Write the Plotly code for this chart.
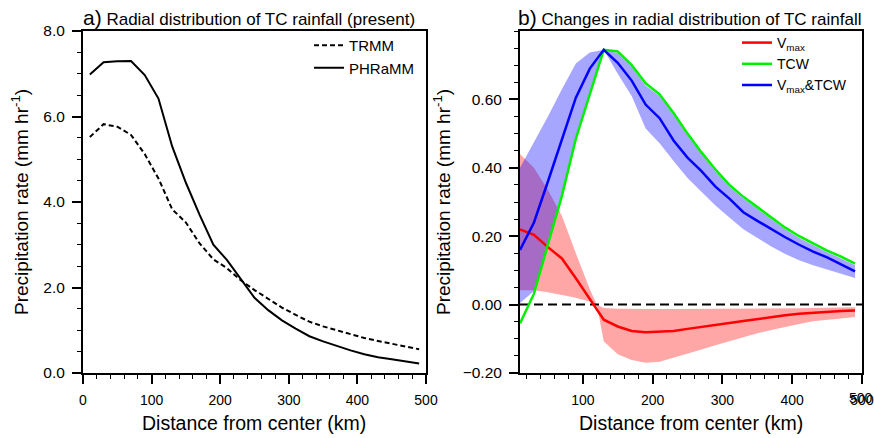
import plotly.graph_objects as go

# ---------------- data ----------------
dist_a = [10, 30, 50, 70, 90, 110, 130, 150, 170, 190, 210, 230, 250, 270, 290,
          310, 330, 350, 370, 390, 410, 430, 450, 470, 490]
trmm = [5.52, 5.82, 5.76, 5.57, 5.12, 4.55, 3.83, 3.52, 3.03, 2.66, 2.45, 2.17, 1.94,
        1.73, 1.53, 1.36, 1.20, 1.09, 1.00, 0.90, 0.82, 0.75, 0.69, 0.62, 0.555]
phramm = [6.98, 7.27, 7.29, 7.30, 6.97, 6.42, 5.30, 4.45, 3.70, 3.00, 2.64, 2.19, 1.76,
          1.47, 1.23, 1.04, 0.86, 0.74, 0.63, 0.53, 0.44, 0.37, 0.32, 0.27, 0.22]

dist_b = dist_a
vmax = [0.22, 0.204, 0.168, 0.135, 0.077, 0.015, -0.044, -0.064, -0.077, -0.081, -0.080,
        -0.077, -0.071, -0.066, -0.060, -0.054, -0.048, -0.042, -0.036, -0.031, -0.027,
        -0.024, -0.021, -0.019, -0.0175]
tcw = [-0.055, 0.032, 0.176, 0.318, 0.485, 0.615, 0.745, 0.74, 0.70, 0.647, 0.615, 0.56,
       0.50, 0.445, 0.395, 0.35, 0.315, 0.285, 0.255, 0.225, 0.20, 0.178, 0.158, 0.14, 0.12]
vmax_tcw = [0.16, 0.24, 0.36, 0.48, 0.605, 0.69, 0.745, 0.707, 0.655, 0.585, 0.545, 0.48,
            0.43, 0.39, 0.345, 0.31, 0.27, 0.245, 0.22, 0.197, 0.175, 0.155, 0.138, 0.117, 0.097]

dist_band_red = [10, 30, 50, 70, 90, 110, 120, 130, 150, 170, 190, 210, 230, 250, 270, 290,
                 310, 330, 350, 370, 390, 410, 430, 450, 470, 490]
vmax_hi = [0.44, 0.40, 0.335, 0.26, 0.15, 0.045, 0.0, -0.010, -0.012, -0.013, -0.013, -0.013,
           -0.013, -0.013, -0.013, -0.013, -0.013, -0.012, -0.012, -0.012, -0.011, -0.011,
           -0.010, -0.010, -0.009, -0.008]
vmax_lo = [0.042, 0.042, 0.036, 0.029, 0.02, 0.008, 0.0, -0.107, -0.145, -0.162, -0.17,
           -0.167, -0.156, -0.143, -0.131, -0.119, -0.106, -0.095, -0.084, -0.074, -0.065,
           -0.057, -0.049, -0.044, -0.04, -0.036]

vt_hi = [0.40, 0.475, 0.55, 0.63, 0.705, 0.737, 0.745, 0.735, 0.695, 0.64, 0.61, 0.555,
         0.495, 0.44, 0.39, 0.345, 0.31, 0.28, 0.25, 0.22, 0.195, 0.173, 0.153, 0.135, 0.115]
vt_lo = [0.005, 0.04, 0.18, 0.325, 0.49, 0.62, 0.745, 0.675, 0.61, 0.515, 0.472, 0.42,
         0.37, 0.33, 0.29, 0.255, 0.22, 0.195, 0.17, 0.148, 0.13, 0.115, 0.103, 0.09, 0.078]

zero_x = [10, 500]
zero_y = [0, 0]

W, H = 874, 438
FONT = "Liberation Sans, Arial, Helvetica, sans-serif"


def px_x(p):
    return p / W


def px_y(p):
    return 1 - p / H


fig = go.Figure()

# ---------------- panel a ----------------
fig.add_trace(go.Scatter(x=dist_a, y=trmm, mode="lines", name="TRMM",
                         line=dict(color="black", width=2, dash="5px,3px"),
                         xaxis="x", yaxis="y", legend="legend"))
fig.add_trace(go.Scatter(x=dist_a, y=phramm, mode="lines", name="PHRaMM",
                         line=dict(color="black", width=2),
                         xaxis="x", yaxis="y", legend="legend"))

# ---------------- panel b ----------------
fig.add_trace(go.Scatter(x=dist_band_red + dist_band_red[::-1], y=vmax_hi + vmax_lo[::-1],
                         fill="toself", fillcolor="rgba(255,0,0,0.35)", mode="lines",
                         line=dict(width=0), hoverinfo="skip", showlegend=False,
                         xaxis="x2", yaxis="y2"))
fig.add_trace(go.Scatter(x=dist_b + dist_b[::-1], y=vt_hi + vt_lo[::-1],
                         fill="toself", fillcolor="rgba(0,0,255,0.35)", mode="lines",
                         line=dict(width=0), hoverinfo="skip", showlegend=False,
                         xaxis="x2", yaxis="y2"))
fig.add_trace(go.Scatter(x=zero_x, y=zero_y, mode="lines", showlegend=False,
                         line=dict(color="black", width=2, dash="9px,5px"),
                         xaxis="x2", yaxis="y2"))
fig.add_trace(go.Scatter(x=dist_b, y=vmax, mode="lines", name="V<sub>max</sub>",
                         line=dict(color="#ff0000", width=2.5),
                         xaxis="x2", yaxis="y2", legend="legend2"))
fig.add_trace(go.Scatter(x=dist_b, y=tcw, mode="lines", name="TCW",
                         line=dict(color="#00f000", width=2.5),
                         xaxis="x2", yaxis="y2", legend="legend2"))
fig.add_trace(go.Scatter(x=dist_b, y=vmax_tcw, mode="lines", name="V<sub>max</sub>&TCW",
                         line=dict(color="#0000ff", width=2.5),
                         xaxis="x2", yaxis="y2", legend="legend2"))

axis_common = dict(showline=True, linecolor="black", linewidth=2, mirror=True,
                   ticks="outside", ticklen=9, tickwidth=1.5, tickcolor="black",
                   showgrid=False, zeroline=False, automargin=False,
                   ticklabeloverflow="allow")
yfont = dict(family=FONT, size=15.5, color="black")
xfont = dict(family=FONT, size=14, color="black")
minor_x = dict(tick0=0, dtick=20, ticks="outside", ticklen=4, tickwidth=1.2, tickcolor="black")

ydom = [px_y(373), px_y(31)]

fig.update_layout(
    template="none",
    width=W, height=H,
    margin=dict(l=0, r=0, t=0, b=0, autoexpand=False),
    paper_bgcolor="white", plot_bgcolor="white",
    font=dict(family=FONT, color="black"),
    xaxis=dict(domain=[px_x(83), px_x(426)], range=[0, 500], tickmode="linear", tick0=0, dtick=100,
               minor=minor_x, anchor="y", ticklabelstandoff=4, tickfont=xfont, **axis_common),
    yaxis=dict(domain=ydom, range=[0, 8], tickmode="linear", tick0=0, dtick=2, tickformat=".1f",
               minor=dict(dtick=0.5, ticks="outside", ticklen=4, tickwidth=1.2, tickcolor="black"),
               anchor="x", ticklabelstandoff=4, tickfont=yfont, **axis_common),
    xaxis2=dict(domain=[px_x(520), px_x(862)], range=[10, 500], tickmode="linear", tick0=0,
                dtick=100, minor=minor_x, anchor="y2", ticklabelstandoff=4, tickfont=xfont,
                **axis_common),
    yaxis2=dict(domain=ydom, range=[-0.2, 0.8], tickvals=[-0.2, 0.0, 0.2, 0.4, 0.6],
                tickformat=".2f",
                minor=dict(dtick=0.05, ticks="outside", ticklen=4, tickwidth=1.2, tickcolor="black"),
                anchor="x2", ticklabelstandoff=4, tickfont=yfont, **axis_common),
    legend=dict(x=px_x(309), y=px_y(29), xanchor="left", yanchor="top",
                bgcolor="rgba(0,0,0,0)", font=dict(family=FONT, size=15, color="black"),
                itemwidth=30, tracegroupgap=0),
    legend2=dict(x=px_x(737), y=px_y(27), xanchor="left", yanchor="top",
                 bgcolor="rgba(0,0,0,0)", font=dict(family=FONT, size=14, color="black"),
                 itemwidth=30, tracegroupgap=0),
    showlegend=True,
)

ann = []
ann.append(dict(text="<span style='font-size:21px'>a)</span> Radial distribution of TC rainfall (present)",
                x=px_x(81), y=px_y(18), xref="paper", yref="paper", xanchor="left", yanchor="middle",
                showarrow=False, font=dict(family=FONT, size=17, color="black")))
ann.append(dict(text="<span style='font-size:21px'>b)</span> Changes in radial distribution of TC rainfall",
                x=px_x(516), y=px_y(18), xref="paper", yref="paper", xanchor="left", yanchor="middle",
                showarrow=False, font=dict(family=FONT, size=17, color="black")))
for xc in (254, 691):
    ann.append(dict(text="Distance from center (km)", x=px_x(xc), y=px_y(423), xref="paper",
                    yref="paper", xanchor="center", yanchor="middle", showarrow=False,
                    font=dict(family=FONT, size=19.5, color="black")))
for xc in (20, 442):
    ann.append(dict(text="Precipitation rate (mm hr<sup>-1</sup>)", x=px_x(xc), y=px_y(202),
                    xref="paper", yref="paper", xanchor="center", yanchor="middle",
                    textangle=-90, showarrow=False, font=dict(family=FONT, size=19, color="black")))
# end label of panel b's x axis (the axis hides its own label at the page edge)
ann.append(dict(text="500", x=500, y=px_y(389), xref="x2", yref="paper", xanchor="right",
                yanchor="top", xshift=12, showarrow=False, borderpad=0,
                font=dict(family=FONT, size=14, color="black")))
fig.update_layout(annotations=ann)

post_js = "document.body.style.margin='0px';document.body.style.padding='0px';"
fig.write_html("out.html", config={"displayModeBar": False}, post_script=post_js)
